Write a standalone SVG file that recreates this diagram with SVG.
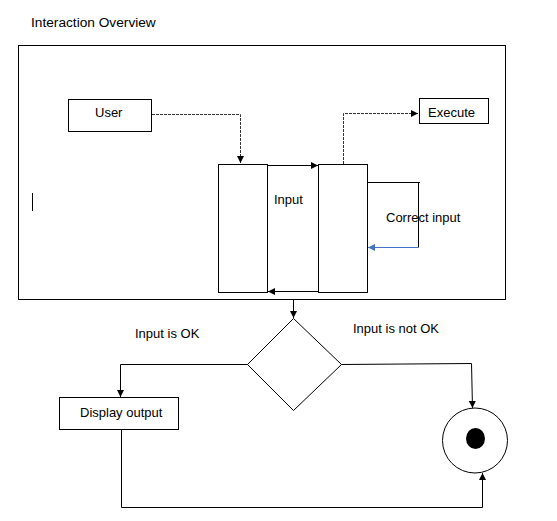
<svg xmlns="http://www.w3.org/2000/svg" width="557" height="521" viewBox="0 0 557 521">
<style>
  text { font-family: "Liberation Sans", Arial, sans-serif; font-size: 13px; fill: #000; }
  .box { fill: #fff; stroke: #000; stroke-width: 1; }
  .line { fill: none; stroke: #000; stroke-width: 1; }
  .dash { fill: none; stroke: #333; stroke-width: 1; stroke-dasharray: 3 1; }
  .blue { fill: none; stroke: #4472C4; stroke-width: 1; }
</style>
<defs>
  <marker id="arr" viewBox="0 0 10 10" refX="10" refY="5" markerWidth="7" markerHeight="7" markerUnits="userSpaceOnUse" orient="auto">
    <path d="M0,0 L10,5 L0,10 z" fill="#000"/>
  </marker>
  <marker id="arrB" viewBox="0 0 10 10" refX="10" refY="5" markerWidth="7" markerHeight="7" markerUnits="userSpaceOnUse" orient="auto">
    <path d="M0,0 L10,5 L0,10 z" fill="#4472C4"/>
  </marker>
</defs>
<rect width="557" height="521" fill="#fff"/>
<text x="31" y="27" style="font-size:13.7px">Interaction Overview</text>
<g id="frame">
  <rect x="18.5" y="45.5" width="487" height="254" class="box"/>
  <line x1="32.5" y1="193" x2="32.5" y2="211" class="line"/>
</g>
<g id="user">
  <rect x="68.5" y="99.5" width="83" height="32" class="box"/>
  <text x="95" y="117">User</text>
</g>
<g id="execute">
  <rect x="419.5" y="98.5" width="69" height="25" class="box"/>
  <text x="428" y="117">Execute</text>
</g>
<g id="lifeline-left">
  <rect x="218.5" y="164.5" width="49" height="128" class="box"/>
</g>
<g id="lifeline-right">
  <rect x="318.5" y="164.5" width="49" height="128" class="box"/>
</g>
<g id="input-label">
  <text x="274" y="204">Input</text>
</g>
<g id="decision">
  <polygon points="293.5,318.5 341.5,364.5 293.5,410.5 247.5,364.5" class="box"/>
</g>
<g id="display">
  <rect x="59.5" y="397.5" width="119" height="32" class="box"/>
  <text x="80" y="417">Display output</text>
</g>
<g id="final">
  <circle cx="475" cy="440.5" r="32.5" class="box"/>
  <ellipse cx="475.5" cy="438.5" rx="9.5" ry="10.5" fill="#000"/>
</g>
<g id="connectors">
  <polyline points="152,114.5 240.5,114.5 240.5,163" class="dash" marker-end="url(#arr)"/>
  <polyline points="343.5,164 343.5,113.5 418,113.5" class="dash" marker-end="url(#arr)"/>
  <line x1="268" y1="165.5" x2="318" y2="165.5" class="line" stroke="#444" marker-end="url(#arr)"/>
  <line x1="318" y1="291.5" x2="268" y2="291.5" class="line" stroke="#444" marker-end="url(#arr)"/>
  <polyline points="368,182.5 420,182.5" class="line"/>
  <polyline points="418.5,182 418.5,247.5" class="line"/>
  <line x1="418.5" y1="247.5" x2="368" y2="247.5" class="blue" marker-end="url(#arrB)"/>
  <line x1="293.5" y1="300" x2="293.5" y2="318" class="line" marker-end="url(#arr)"/>
  <polyline points="247.5,364.5 120.5,364.5 120.5,397" class="line" marker-end="url(#arr)"/>
  <polyline points="341.5,364.5 471.5,363.5 472.5,408" class="line" marker-end="url(#arr)"/>
  <polyline points="121.5,430 121.5,507.5 482.5,507.5 482.5,473" class="line" marker-end="url(#arr)"/>
  <text x="135" y="338">Input is OK</text>
  <text x="353" y="333">Input is not OK</text>
  <text x="386" y="222">Correct input</text>
</g>
</svg>
